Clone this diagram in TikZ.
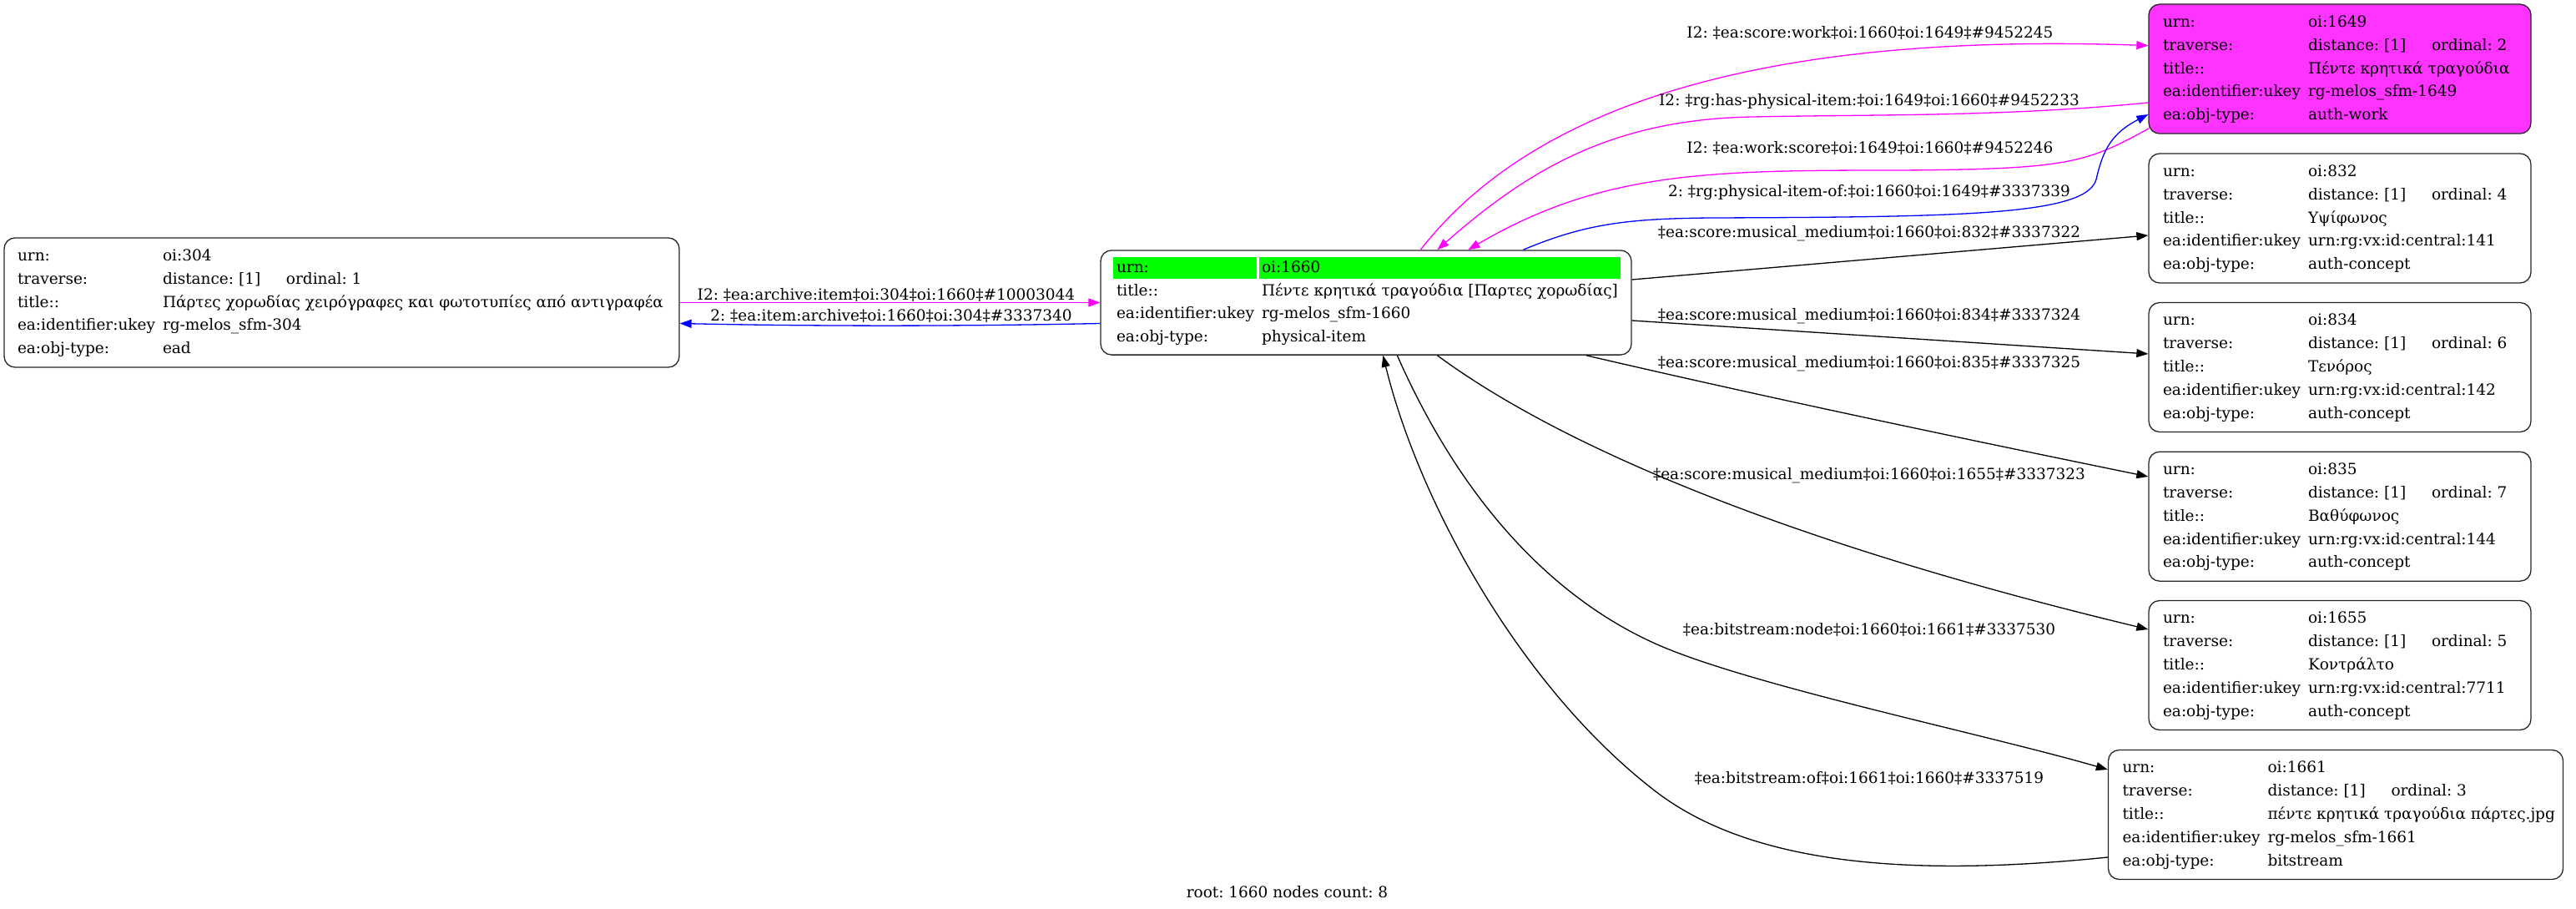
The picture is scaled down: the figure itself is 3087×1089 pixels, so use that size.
\documentclass[tikz,border=0pt]{standalone}
\usepackage{fontspec}
\setmainfont{DejaVu Serif}
\usetikzlibrary{arrows.meta,calc}
\definecolor{hlgreen}{HTML}{00FF00}
\definecolor{magfill}{HTML}{FF33FF}
\definecolor{magedge}{HTML}{FF00FF}
\definecolor{bluedge}{HTML}{0000FF}
\frenchspacing
\newcommand\fs{\fontsize{18.5}{27.8}\selectfont\frenchspacing}
\newcommand\rtab[2]{\begin{tabular}{@{}p{174pt}@{}p{#1}@{}}#2\end{tabular}}
\newcommand\trav[1]{\mbox{\makebox[148pt][l]{distance: [1]}ordinal: #1}}
\begin{document}
\begin{tikzpicture}[x=1pt,y=-1pt,
  rec/.style={draw=black!85, line width=1.3pt, rounded corners=13pt, fill=white,
    inner xsep=17pt, inner ysep=8pt, font=\fs},
  elab/.style={anchor=base, inner sep=0pt, font=\fs},
  tip/.style={-{Triangle[length=14pt,width=10pt]}},
  medge/.style={draw=magedge, line width=1.3pt, tip},
  bedge/.style={draw=bluedge, line width=1.3pt, tip},
  kedge/.style={draw=black, line width=1.3pt, tip}]
\fill[white] (0,0) rectangle (3087,1089);
\useasboundingbox (0,0) rectangle (3087,1089);

% nodes
\node[rec, inner xsep=16pt] (n304) at (409.5,362.5) {\rtab{603pt}{%
urn: & oi:304\\
traverse: & \trav{1}\\
title:: & \mbox{Πάρτες χορωδίας χειρόγραφες και φωτοτυπίες από αντιγραφέα}\\
ea:identifier:ukey & rg-melos\_sfm-304\\
ea:obj-type: & ead}};

\node[rec, inner xsep=19pt, inner ysep=7pt] (n1660) at (1637,362.5) {\rtab{424pt}{%
\makebox[0pt][l]{\hspace*{-4.5pt}\textcolor{hlgreen}{\rule[-8pt]{172.5pt}{26pt}}}urn: &
\makebox[0pt][l]{\hspace*{-3pt}\textcolor{hlgreen}{\rule[-8pt]{433pt}{26pt}}}oi:1660\\
title:: & \mbox{Πέντε κρητικά τραγούδια [Παρτες χορωδίας]}\\
ea:identifier:ukey & rg-melos\_sfm-1660\\
ea:obj-type: & physical-item}};

\node[rec, fill=magfill] (n1649) at (2804,82.6) {\rtab{250pt}{%
urn: & oi:1649\\
traverse: & \trav{2}\\
title:: & \mbox{Πέντε κρητικά τραγούδια}\\
ea:identifier:ukey & rg-melos\_sfm-1649\\
ea:obj-type: & auth-work}};

\node[rec] (n832) at (2804,261.5) {\rtab{250pt}{%
urn: & oi:832\\
traverse: & \trav{4}\\
title:: & Υψίφωνος\\
ea:identifier:ukey & \mbox{urn:rg:vx:id:central:141}\\
ea:obj-type: & auth-concept}};

\node[rec] (n834) at (2804,440) {\rtab{250pt}{%
urn: & oi:834\\
traverse: & \trav{6}\\
title:: & Τενόρος\\
ea:identifier:ukey & \mbox{urn:rg:vx:id:central:142}\\
ea:obj-type: & auth-concept}};

\node[rec] (n835) at (2804,618.7) {\rtab{250pt}{%
urn: & oi:835\\
traverse: & \trav{7}\\
title:: & Βαθύφωνος\\
ea:identifier:ukey & \mbox{urn:rg:vx:id:central:144}\\
ea:obj-type: & auth-concept}};

\node[rec] (n1655) at (2804,797) {\rtab{250pt}{%
urn: & oi:1655\\
traverse: & \trav{5}\\
title:: & Κοντράλτο\\
ea:identifier:ukey & \mbox{urn:rg:vx:id:central:7711}\\
ea:obj-type: & auth-concept}};

\node[rec] (n1661) at (2799,976) {\rtab{337pt}{%
urn: & oi:1661\\
traverse: & \trav{3}\\
title:: & \mbox{πέντε κρητικά τραγούδια πάρτες.jpg}\\
ea:identifier:ukey & rg-melos\_sfm-1661\\
ea:obj-type: & bitstream}};

% edges
\draw[medge] (n304.east) -- (n1660.west);
\draw[bedge] ($(n1660.west)+(0,25)$) .. controls (1150,391) and (980,391) .. ($(n304.east)+(0,25)$);

\draw[medge] ($(n1660.north west)+(384,0)$) .. controls (1850,110) and (2150,40) .. ($(n1649.west)+(0,-28)$);
\draw[medge] ($(n1649.west)+(0,40.4)$) .. controls (2400,140) and (2250,137) .. (2100,140)
   .. controls (1930,143) and (1830,205) .. ($(n1660.north west)+(404,0)$);
\draw[medge] ($(n1649.south west)+(1,-7)$) .. controls (2500,195) and (2480,203) .. (2274,204)
   .. controls (2050,204) and (1920,205) .. ($(n1660.north west)+(441,0)$);
\draw[bedge] ($(n1660.north west)+(507,0)$) .. controls (1900,268) and (1950,262) .. (2050,261)
   .. controls (2350,260) and (2500,258) .. (2512,215)
   .. controls (2520,180) and (2530,160) .. ($(n1649.west)+(0,54.4)$);

\draw[kedge] ($(n1660.east)+(0,-27.5)$) -- ($(n832.west)+(0,20.5)$);
\draw[kedge] ($(n1660.east)+(0,21.5)$) -- ($(n834.west)+(0,-16)$);
\draw[kedge] ($(n1660.south east)+(-55,0)$) .. controls (2125,478) and (2350,525) .. ($(n835.west)+(0,-47.7)$);
\draw[kedge] ($(n1660.south west)+(404,0)$) .. controls (1850,520) and (2100,640) .. ($(n1655.west)+(0,-43)$);
\draw[kedge] ($(n1660.south west)+(356,0)$) .. controls (1760,620) and (1880,730) .. (2000,778)
   .. controls (2120,826) and (2380,880) .. ($(n1661.west)+(0,-54)$);
\draw[kedge] ($(n1661.west)+(0,51)$) .. controls (2300,1050) and (2100,1040) .. (1980,945)
   .. controls (1820,820) and (1700,600) .. ($(n1660.south west)+(339,0)$);

% edge labels
\node[elab] (l1) at (1062,359) {I2: ‡ea:archive:item‡oi:304‡oi:1660‡\#10003044};
\node[elab] (l2) at (1068,384) {2: ‡ea:item:archive‡oi:1660‡oi:304‡\#3337340};
\node[elab] (l3) at (2241,46) {I2: ‡ea:score:work‡oi:1660‡oi:1649‡\#9452245};
\node[elab] (l4) at (2240,127) {I2: ‡rg:has-physical-item:‡oi:1649‡oi:1660‡\#9452233};
\node[elab] (l5) at (2241,183) {I2: ‡ea:work:score‡oi:1649‡oi:1660‡\#9452246};
\node[elab] (l6) at (2240,235) {2: ‡rg:physical-item-of:‡oi:1660‡oi:1649‡\#3337339};
\node[elab] (l7) at (2240,284) {‡ea:score:musical\_medium‡oi:1660‡oi:832‡\#3337322};
\node[elab] (l8) at (2240,383) {‡ea:score:musical\_medium‡oi:1660‡oi:834‡\#3337324};
\node[elab] (l9) at (2240,440) {‡ea:score:musical\_medium‡oi:1660‡oi:835‡\#3337325};
\node[elab] (l10) at (2240,574) {‡ea:score:musical\_medium‡oi:1660‡oi:1655‡\#3337323};
\node[elab] (l11) at (2240,760) {‡ea:bitstream:node‡oi:1660‡oi:1661‡\#3337530};
\node[elab] (l12) at (2240,938) {‡ea:bitstream:of‡oi:1661‡oi:1660‡\#3337519};

\node[elab] (root) at (1542.5,1075) {root: 1660 nodes count: 8};
\end{tikzpicture}
\end{document}
